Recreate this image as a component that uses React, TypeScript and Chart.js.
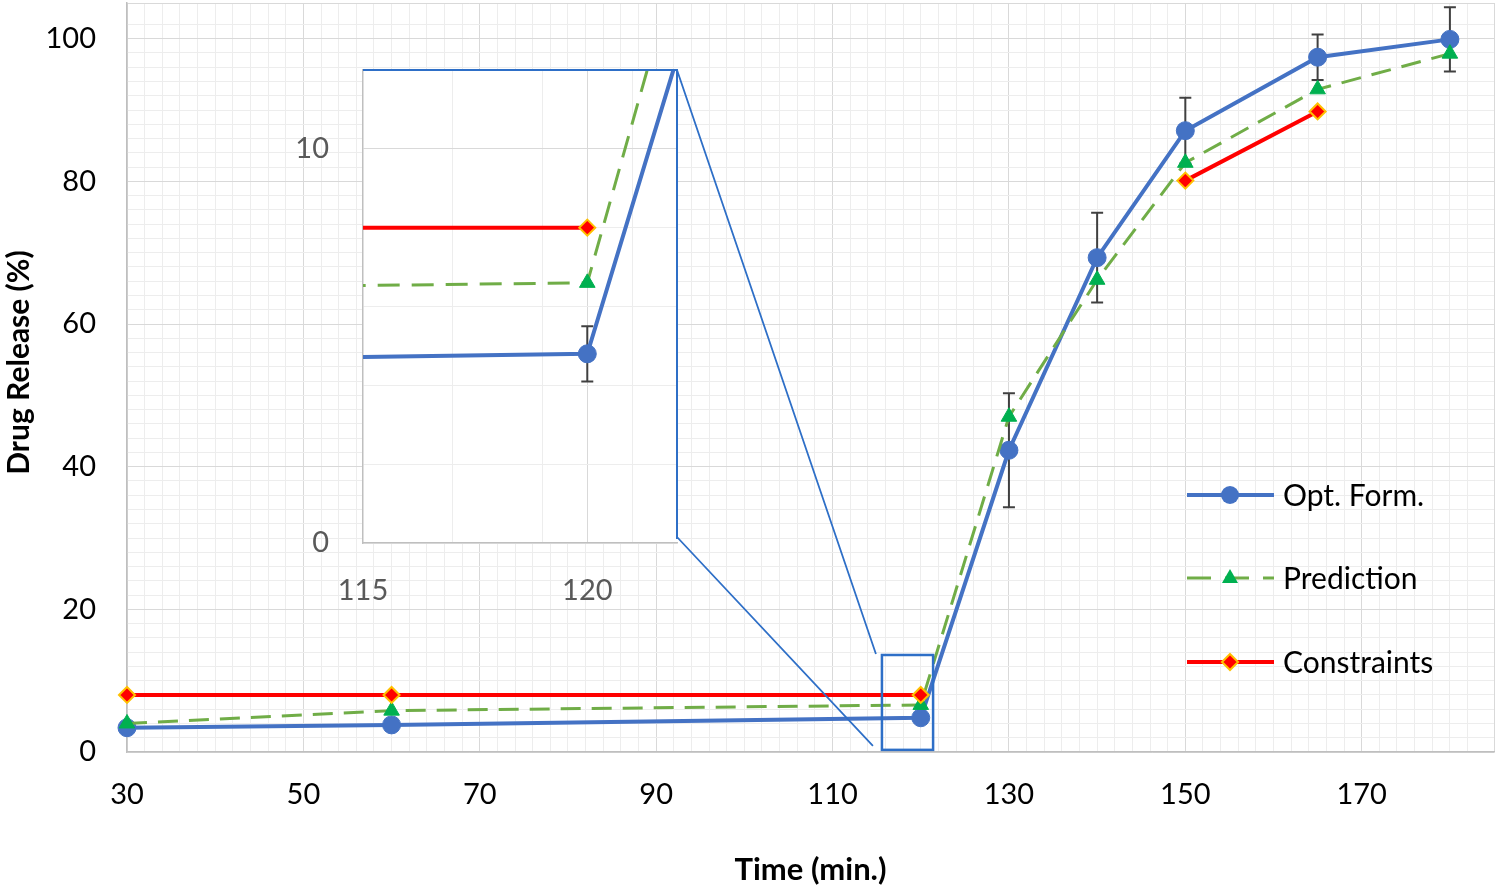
import React, { useEffect, useRef } from 'react';
import { Chart, registerables } from 'chart.js';

Chart.register(...registerables);

// ---------- data ----------
const times = [30, 60, 120, 130, 140, 150, 165, 180];
const optForm = [3.4, 3.8, 4.8, 42.3, 69.3, 87.1, 97.4, 99.9];
const optErr = [0, 0, 0.7, 8.0, 6.3, 4.6, 3.2, 4.5];
const prediction = [4.0, 5.8, 6.6, 47.0, 66.2, 82.6, 92.9, 97.9];
const constraints: (number | null)[] = [8, 8, 8, null, null, 80.1, 89.8, null];

const seriesNames = ['Opt. Form.', 'Prediction', 'Constraints'];

const mainXLabels = [30, 50, 70, 90, 110, 130, 150, 170];
const mainYLabels = [0, 20, 40, 60, 80, 100];
const insetXLabels = [115, 120];
const insetYLabels = [0, 10];

const zoomBoxX = [115.6, 121.4];
const zoomBoxY = [0.3, 13.6];

// ---------- style ----------
const FONT = "Lato, 'Open Sans', sans-serif";
const BLUE = '#4472C4';
const GREEN_LINE = '#70AD47';
const GREEN_MARK = '#00B050';
const RED = '#FF0000';
const GOLD = '#FFC000';
const BOX_BLUE = '#2E6FC7';
const MAJOR = '#D9D9D9';
const MINOR = '#EDEDED';
const AXIS = '#BFBFBF';

const INSET_LEFT = 280;
const INSET_TOP = 40;
const INSET_W = 420;
const INSET_H = 580;

const pts = (vals: (number | null)[]) => times.map((t, i) => ({ x: t, y: vals[i] }));

const noPad = (s: any) => {
  s.paddingTop = 0;
  s.paddingBottom = 0;
  s.paddingLeft = 0;
  s.paddingRight = 0;
};

function datasets(dash: number[]) {
  return [
    {
      label: seriesNames[0],
      data: pts(optForm),
      borderColor: BLUE,
      backgroundColor: BLUE,
      borderWidth: 4,
      pointStyle: 'circle',
      pointRadius: 9,
      pointBackgroundColor: BLUE,
      pointBorderColor: BLUE,
      pointBorderWidth: 1,
      order: 3,
    },
    {
      label: seriesNames[1],
      data: pts(prediction),
      borderColor: GREEN_LINE,
      backgroundColor: GREEN_MARK,
      borderWidth: 3,
      borderDash: dash,
      pointStyle: 'triangle',
      pointRadius: 9,
      pointBackgroundColor: GREEN_MARK,
      pointBorderColor: GREEN_MARK,
      pointBorderWidth: 1,
      order: 2,
    },
    {
      label: seriesNames[2],
      data: pts(constraints),
      borderColor: RED,
      backgroundColor: RED,
      borderWidth: 4,
      pointStyle: 'rectRot',
      pointRadius: 8,
      pointBackgroundColor: RED,
      pointBorderColor: GOLD,
      pointBorderWidth: 2,
      spanGaps: false,
      order: 1,
    },
  ];
}

const errorBars = {
  id: 'errorBars',
  beforeDatasetsDraw(chart: any) {
    const { ctx, chartArea: a, scales } = chart;
    const x = scales.x, y = scales.y;
    ctx.save();
    ctx.beginPath();
    ctx.rect(a.left, a.top, a.right - a.left, a.bottom - a.top);
    ctx.clip();
    ctx.strokeStyle = '#404040';
    ctx.lineWidth = 2;
    times.forEach((t, i) => {
      const e = optErr[i];
      if (!e) return;
      const px = x.getPixelForValue(t);
      const y1 = y.getPixelForValue(optForm[i] + e);
      const y2 = y.getPixelForValue(optForm[i] - e);
      ctx.beginPath();
      ctx.moveTo(px, y1);
      ctx.lineTo(px, y2);
      ctx.moveTo(px - 6, y1);
      ctx.lineTo(px + 6, y1);
      ctx.moveTo(px - 6, y2);
      ctx.lineTo(px + 6, y2);
      ctx.stroke();
    });
    ctx.restore();
  },
};

const mainDecor = {
  id: 'mainDecor',
  afterDatasetsDraw(chart: any) {
    const { ctx, scales } = chart;
    const x = scales.x, y = scales.y;
    const bx0 = x.getPixelForValue(zoomBoxX[0]);
    const bx1 = x.getPixelForValue(zoomBoxX[1]);
    const by0 = y.getPixelForValue(zoomBoxY[0]);
    const by1 = y.getPixelForValue(zoomBoxY[1]);
    ctx.save();
    ctx.strokeStyle = BOX_BLUE;
    ctx.lineWidth = 2.5;
    ctx.strokeRect(bx0, by1, bx1 - bx0, by0 - by1);
    // connectors from inset corners to the zoom box
    const insetRight = INSET_LEFT + 397;
    const insetTop = INSET_TOP + 30;
    const insetBottom = INSET_TOP + 497;
    ctx.lineWidth = 1.8;
    ctx.beginPath();
    ctx.moveTo(insetRight, insetTop);
    ctx.lineTo(bx0 - 6, by1 - 1);
    ctx.moveTo(insetRight, insetBottom);
    ctx.lineTo(bx0 - 9, by0 - 4);
    ctx.stroke();
    ctx.restore();
  },
  afterDraw(chart: any) {
    const { ctx, chartArea: a } = chart;
    ctx.save();
    // y-axis title
    ctx.translate(19, (a.top + a.bottom) / 2 - 15);
    ctx.rotate(-Math.PI / 2);
    ctx.fillStyle = '#000';
    ctx.font = `bold 30px ${FONT}`;
    ctx.textAlign = 'center';
    ctx.textBaseline = 'middle';
    ctx.fillText('Drug Release (%)', 0, 0);
    ctx.restore();

    // legend
    const x0 = 1187, x1 = 1274, xm = 1230, tx = 1283;
    const rows = [495, 578, 662];
    ctx.save();
    rows.forEach((ry, i) => {
      ctx.setLineDash([]);
      if (i === 0) {
        ctx.strokeStyle = BLUE; ctx.lineWidth = 4;
        ctx.beginPath(); ctx.moveTo(x0, ry); ctx.lineTo(x1, ry); ctx.stroke();
        ctx.fillStyle = BLUE;
        ctx.beginPath(); ctx.arc(xm, ry, 9, 0, Math.PI * 2); ctx.fill();
      } else if (i === 1) {
        ctx.strokeStyle = GREEN_LINE; ctx.lineWidth = 3;
        ctx.setLineDash([24, 14]);
        ctx.beginPath(); ctx.moveTo(x0, ry); ctx.lineTo(x1, ry); ctx.stroke();
        ctx.setLineDash([]);
        ctx.fillStyle = GREEN_MARK;
        ctx.beginPath();
        ctx.moveTo(xm, ry - 9);
        ctx.lineTo(xm + 8, ry + 5);
        ctx.lineTo(xm - 8, ry + 5);
        ctx.closePath(); ctx.fill();
      } else {
        ctx.strokeStyle = RED; ctx.lineWidth = 4;
        ctx.beginPath(); ctx.moveTo(x0, ry); ctx.lineTo(x1, ry); ctx.stroke();
        ctx.fillStyle = RED; ctx.strokeStyle = GOLD; ctx.lineWidth = 2;
        ctx.beginPath();
        ctx.moveTo(xm, ry - 8); ctx.lineTo(xm + 8, ry); ctx.lineTo(xm, ry + 8); ctx.lineTo(xm - 8, ry);
        ctx.closePath(); ctx.fill(); ctx.stroke();
      }
      ctx.fillStyle = '#000';
      ctx.font = `30px ${FONT}`;
      ctx.textAlign = 'left';
      ctx.textBaseline = 'middle';
      ctx.fillText(seriesNames[i], tx, ry + 1);
    });
    ctx.restore();
  },
};

const insetDecor = {
  id: 'insetDecor',
  beforeDraw(chart: any) {
    const { ctx, chartArea: a } = chart;
    ctx.save();
    ctx.fillStyle = '#FFFFFF';
    ctx.fillRect(a.left, a.top, a.right - a.left, a.bottom - a.top);
    ctx.restore();
  },
  afterDraw(chart: any) {
    const { ctx, chartArea: a } = chart;
    ctx.save();
    ctx.strokeStyle = BOX_BLUE;
    ctx.lineWidth = 2;
    ctx.beginPath();
    ctx.moveTo(a.left, a.top);
    ctx.lineTo(a.right, a.top);
    ctx.lineTo(a.right, a.bottom - 4);
    ctx.stroke();
    ctx.restore();
  },
};

export default function App() {
  const mainRef = useRef<HTMLCanvasElement>(null);
  const insetRef = useRef<HTMLCanvasElement>(null);

  useEffect(() => {
    const main = new Chart(mainRef.current as HTMLCanvasElement, {
      type: 'line',
      data: { datasets: datasets([20, 11]) as any },
      options: {
        animation: false,
        responsive: false,
        maintainAspectRatio: false,
        events: [],
        layout: { autoPadding: false, padding: { top: 3, right: 6, bottom: 0, left: 0 } },
        datasets: { line: { clip: false as any } },
        plugins: { legend: { display: false }, tooltip: { enabled: false } },
        scales: {
          x: {
            type: 'linear',
            min: 30,
            max: 185,
            afterFit: (s: any) => { s.height = 138; noPad(s); },
            ticks: {
              stepSize: 2,
              autoSkip: false,
              maxRotation: 0,
              padding: 25,
              color: '#000',
              font: { family: FONT, size: 29 },
              callback: (v: any) => (mainXLabels.includes(Number(v)) ? String(v) : ''),
            },
            grid: {
              drawTicks: false,
              lineWidth: 1,
              color: (c: any) => ((c.tick.value - 30) % 20 === 0 || c.tick.value === 185 ? MAJOR : MINOR),
            },
            border: { display: true, color: AXIS, width: 1.5 },
            title: {
              display: true,
              text: 'Time (min.)',
              color: '#000',
              font: { family: FONT, size: 31, weight: 'bold' },
              padding: { top: 0, bottom: 1 },
            },
          },
          y: {
            type: 'linear',
            min: 0,
            max: 105,
            afterFit: (s: any) => { s.width = 127; noPad(s); },
            ticks: {
              stepSize: 2,
              autoSkip: false,
              padding: 31,
              color: '#000',
              font: { family: FONT, size: 29 },
              callback: (v: any) => (mainYLabels.includes(Number(v)) ? String(v) : ''),
            },
            grid: {
              drawTicks: false,
              lineWidth: 1,
              color: (c: any) => (c.tick.value % 20 === 0 || c.tick.value === 105 ? MAJOR : MINOR),
            },
            border: { display: true, color: AXIS, width: 1.5 },
            title: { display: false },
          },
        },
      } as any,
      plugins: [errorBars, mainDecor],
    });

    const inset = new Chart(insetRef.current as HTMLCanvasElement, {
      type: 'line',
      data: { datasets: datasets([22, 12]) as any },
      options: {
        animation: false,
        responsive: false,
        maintainAspectRatio: false,
        events: [],
        layout: { autoPadding: false, padding: { top: 30, right: 23, bottom: 0, left: 0 } },
        datasets: { line: { clip: 0 as any } },
        plugins: { legend: { display: false }, tooltip: { enabled: false } },
        scales: {
          x: {
            type: 'linear',
            min: 115,
            max: 122,
            afterFit: (s: any) => { s.height = 77; noPad(s); },
            ticks: {
              stepSize: 1,
              autoSkip: false,
              maxRotation: 0,
              padding: 30,
              color: '#595959',
              font: { family: FONT, size: 29 },
              callback: (v: any) => (insetXLabels.includes(Number(v)) ? String(v) : ''),
            },
            grid: {
              drawTicks: false,
              lineWidth: 1,
              color: (c: any) => {
                const v = c.tick.value;
                if (v === 120) return MAJOR;
                if (v === 117 || v === 119 || v === 121) return MINOR;
                return 'rgba(0,0,0,0)';
              },
            },
            border: { display: true, color: AXIS, width: 1.5 },
          },
          y: {
            type: 'linear',
            min: 0,
            max: 12,
            afterFit: (s: any) => { s.width = 83; noPad(s); },
            ticks: {
              stepSize: 2,
              autoSkip: false,
              padding: 34,
              color: '#595959',
              font: { family: FONT, size: 29 },
              callback: (v: any) => (insetYLabels.includes(Number(v)) ? String(v) : ''),
            },
            grid: {
              drawTicks: false,
              lineWidth: 1,
              color: (c: any) => (c.tick.value === 10 ? MAJOR : c.tick.value === 12 ? 'rgba(0,0,0,0)' : MINOR),
            },
            border: { display: true, color: AXIS, width: 1.5 },
          },
        },
      } as any,
      plugins: [insetDecor, errorBars],
    });

    return () => {
      main.destroy();
      inset.destroy();
    };
  }, []);

  return (
    <div style={{ position: 'absolute', left: 0, top: 0, width: 1500, height: 890, background: '#fff' }}>
      <canvas ref={mainRef} width={1500} height={890} style={{ position: 'absolute', left: 0, top: 0 }} />
      <canvas
        ref={insetRef}
        width={INSET_W}
        height={INSET_H}
        style={{ position: 'absolute', left: INSET_LEFT, top: INSET_TOP }}
      />
    </div>
  );
}
